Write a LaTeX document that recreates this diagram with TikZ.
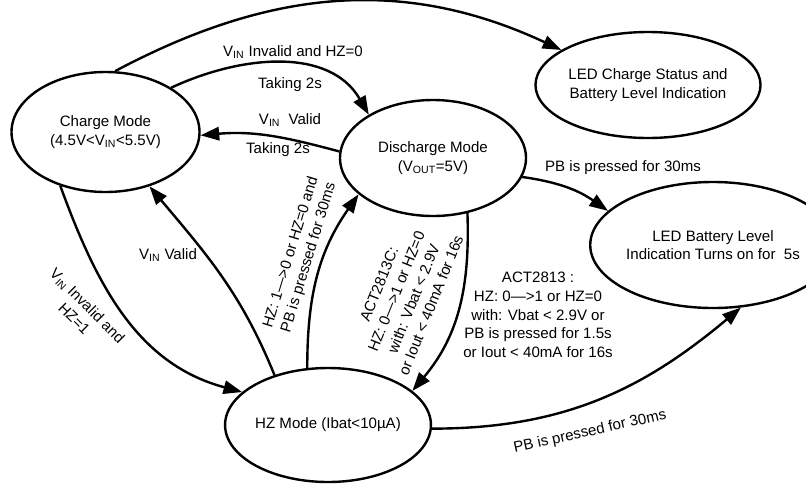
\documentclass[tikz,border=0pt]{standalone}
\usepackage{fontspec}
\setmainfont{Liberation Sans}
\usetikzlibrary{shapes.geometric, arrows.meta}
\newcommand{\vin}{V\textsubscript{IN}}

\begin{document}
\begin{tikzpicture}[x=0.75pt, y=0.75pt,
  mode/.style={draw, ellipse, line width=1.8pt, inner sep=0pt, align=center, font=\fontsize{11.3}{14}\selectfont},
  trans/.style={line width=1.8pt, -{Triangle[length=14pt,width=10pt]}},
  lbl/.style={inner sep=0pt, align=center, font=\fontsize{11.3}{14}\selectfont}]
\useasboundingbox (0,0) rectangle (806,-483);
% the five modes
\node[mode, minimum width=141pt, minimum height=90pt] (charge) at (105.5,-132) {Charge Mode\\(4.5V<\vin<5.5V)};
\node[mode, minimum width=139.5pt, minimum height=87pt] (discharge) at (433,-158) {Discharge Mode\\(V\textsubscript{OUT}=5V)};
\node[mode, minimum width=165pt, minimum height=79.5pt] (ledcs) at (648,-85) {LED Charge Status and\\Battery Level Indication};
\node[mode, minimum width=138pt, minimum height=94.5pt] (ledbl) at (713,-245) {LED Battery Level\\Indication Turns on for~~5s};
\node[mode, minimum width=141pt, minimum height=85.5pt] (hz) at (328,-425) {HZ Mode (Ibat<10µA)};
% transitions
\draw[trans] (charge.81) to[out=28, in=155] (ledcs.158);
\draw[trans] (charge.34) to[out=25, in=120] (discharge.146);
\draw[trans] (discharge.176) to[out=165, in=5] (charge.358);
\draw[trans] (discharge.-12) to[out=-8, in=145] (ledbl.162);
\draw[trans] (charge.-130) to[out=-70, in=165] (hz.159);
\draw[trans] (hz.137) to[out=112, in=-50] (charge.-51);
\draw[trans] (hz.110) to[out=90, in=-125] (discharge.206);
\draw[trans] (discharge.-58) to[out=-88, in=50] (hz.22);
\draw[trans] (hz.-2) to[out=0, in=-140] (ledbl.-66);
% conditions
\node[lbl] (invalid0) at (293,-52) {\vin{} Invalid and HZ=0};
\node[lbl] (take1) at (290,-85) {Taking 2s};
\node[lbl] (valid1) at (290,-120) {\vin~~Valid};
\node[lbl] (take2) at (278,-150) {Taking 2s};
\node[lbl] (press1) at (623,-168) {PB is pressed for 30ms};
\node[lbl, rotate=-45] (invalid1) at (81,-312) {\vin{} Invalid and\\HZ=1};
\node[lbl] (valid2) at (168,-255) {\vin{} Valid};
\node[lbl, rotate=73] (wake) at (300,-255) {HZ: 1\textemdash>0 or HZ=0 and\\PB is pressed for 30ms};
\node[lbl, rotate=68] (offc) at (405,-295) {ACT2813C:\\HZ: 0\textemdash>1 or HZ=0\\with: Vbat < 2.9V\\or Iout < 40mA for 16s};
\node[lbl] (off) at (538,-315) {ACT2813 :\\HZ: 0\textemdash>1 or HZ=0\\with: Vbat < 2.9V or\\PB is pressed for 1.5s\\or Iout < 40mA for 16s};
\node[lbl, rotate=12.5] (press2) at (590,-432) {PB is pressed for 30ms};
\end{tikzpicture}
\end{document}
